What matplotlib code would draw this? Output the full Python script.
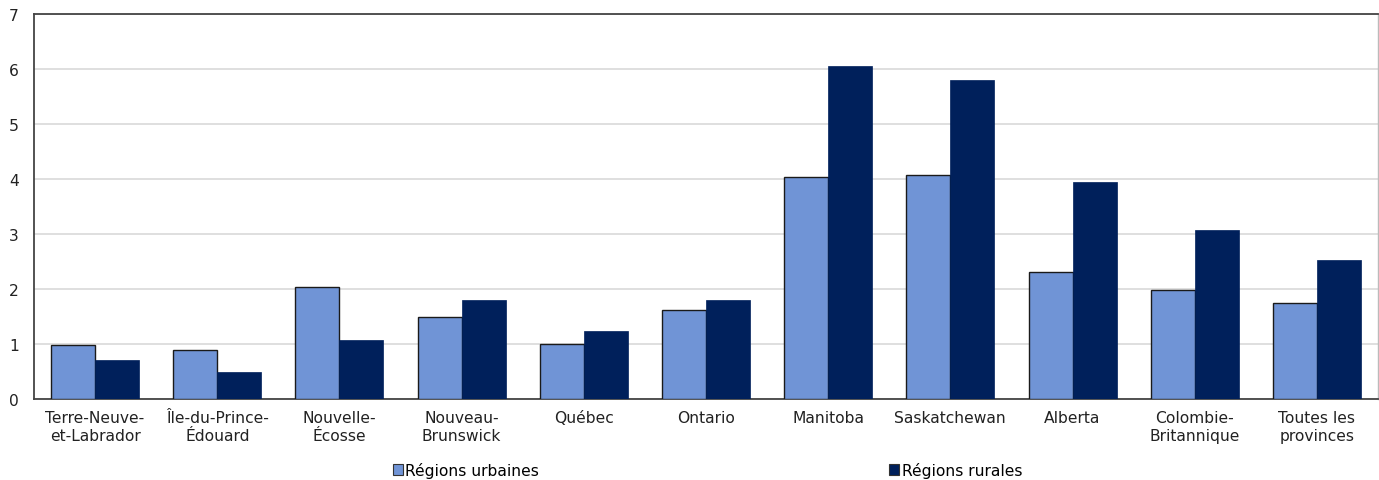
import matplotlib
matplotlib.use("Agg")
import matplotlib.pyplot as plt
import numpy as np

categories = ["Terre-Neuve-\net-Labrador", "Île-du-Prince-\nÉdouard", "Nouvelle-\nÉcosse",
              "Nouveau-\nBrunswick", "Québec", "Ontario", "Manitoba", "Saskatchewan",
              "Alberta", "Colombie-\nBritannique", "Toutes les\nprovinces"]
urbaines = [0.98, 0.89, 2.04, 1.49, 1.00, 1.62, 4.04, 4.07, 2.31, 1.98, 1.75]
rurales = [0.71, 0.49, 1.07, 1.80, 1.24, 1.80, 6.05, 5.80, 3.95, 3.07, 2.53]
yticks = [0, 1, 2, 3, 4, 5, 6, 7]

plt.rcParams['font.family'] = ['DejaVu Sans']
fs = 11.2
fig = plt.figure(figsize=(13.79, 4.81), dpi=100)
W, H = 1379, 481
ax = fig.add_axes([34 / W, (H - 400) / H, (1378 - 34) / W, (400 - 15) / H])

x = np.arange(len(categories))
bw = 0.36
c_urb = "#7094D6"
c_rur = "#00205B"
ax.bar(x - bw / 2, urbaines, bw, color=c_urb, edgecolor="#1a1a1a", linewidth=1.0,
       label="Régions urbaines", zorder=3)
ax.bar(x + bw / 2, rurales, bw, color=c_rur, edgecolor=c_rur, linewidth=0.5,
       label="Régions rurales", zorder=3)

ax.set_xlim(-0.5, len(categories) - 0.5)
ax.set_ylim(0, 7)
ax.set_yticks(yticks)
ax.set_xticks(x)
ax.set_xticklabels(categories, fontsize=fs, color="#222222", linespacing=1.25)
ax.tick_params(axis="y", labelsize=fs, length=0, pad=11, colors="#222222")
ax.tick_params(axis="x", length=0, pad=8)
ax.grid(axis="y", color="#d9d9d9", linewidth=1.2, zorder=0)
ax.set_axisbelow(True)
for s in ["left", "top", "bottom"]:
    ax.spines[s].set_color("#444444")
    ax.spines[s].set_linewidth(1.3)
ax.spines["right"].set_color("#bbbbbb")
ax.spines["right"].set_linewidth(1.0)

leg = fig.legend(loc="center left", bbox_to_anchor=(393 / W, 1 - 471 / H), ncol=2,
                 frameon=False, fontsize=fs, handlelength=0.65, handleheight=0.65,
                 handletextpad=0.15, columnspacing=22.5, borderaxespad=0, borderpad=0)
for h in leg.legend_handles:
    h.set_edgecolor("#333333")
    h.set_linewidth(0.8)

fig.savefig("out.png", dpi=100)
